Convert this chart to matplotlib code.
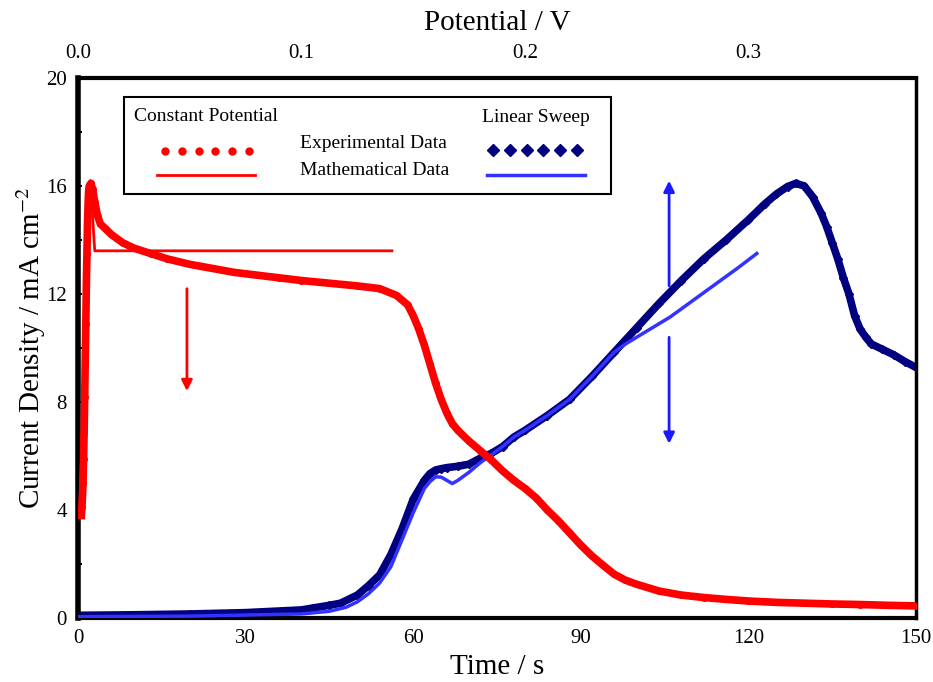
import matplotlib.pyplot as plt
from matplotlib.ticker import MultipleLocator

plt.rcParams['font.family'] = ['Liberation Serif', 'DejaVu Serif']
plt.rcParams['mathtext.fontset'] = 'stix'

# Constant potential - experimental
t_cp = [0.6, 0.7, 0.8, 0.9, 1.0, 1.1, 1.2, 1.3, 1.4, 1.5, 1.6, 1.7, 1.8, 1.9, 2.0,
        2.3, 2.6, 3.0, 3.5, 4.0, 5.0, 6.0, 8, 10, 13, 16, 20, 24, 28, 32, 36, 40,
        45, 50, 54, 57, 59, 60, 61, 62, 63, 64, 65, 66, 67, 68, 70, 72, 74, 76, 78,
        80, 82, 84, 86, 88, 90, 92, 94, 96, 98, 100, 104, 108, 112, 116, 120, 125,
        130, 135, 140, 145, 150]
j_cp = [3.8, 4.1, 4.5, 5.0, 5.9, 6.9, 8.2, 9.6, 10.9, 12.4, 13.5, 14.6, 15.3, 15.8, 16.0,
        16.1, 15.9, 15.4, 14.9, 14.6, 14.4, 14.2, 13.9, 13.7, 13.5, 13.3, 13.1, 12.95, 12.8,
        12.7, 12.6, 12.5, 12.4, 12.3, 12.2, 11.95, 11.6, 11.2, 10.7, 10.1, 9.4, 8.7, 8.1,
        7.6, 7.2, 6.95, 6.55, 6.2, 5.85, 5.45, 5.1, 4.8, 4.45, 4.0, 3.6, 3.15, 2.7, 2.3,
        1.95, 1.62, 1.4, 1.25, 1.0, 0.85, 0.76, 0.69, 0.63, 0.58, 0.55, 0.52, 0.5, 0.47, 0.45]

# Constant potential - mathematical
t_cpm = [0.3, 2.2, 3.0, 56.2]
j_cpm = [3.8, 16.2, 13.6, 13.6]

# Linear sweep - experimental
t_ls = [0, 10, 20, 30, 40, 42, 45, 47, 50, 52, 54, 56, 58, 60, 62, 63, 64, 65, 66, 68,
        70, 72, 74, 76, 78, 80, 84, 88, 92, 96, 100, 104, 108, 112, 116, 120, 123, 125,
        127, 128.5, 130, 131.5, 133, 134, 135, 136, 137, 138, 139, 140, 141, 142, 144,
        146, 148, 150]
j_ls = [0.1, 0.12, 0.15, 0.2, 0.3, 0.37, 0.47, 0.55, 0.85, 1.2, 1.6, 2.35, 3.3, 4.4, 5.1,
        5.35, 5.48, 5.53, 5.57, 5.62, 5.7, 5.92, 6.1, 6.35, 6.7, 6.95, 7.5, 8.1, 8.95, 9.85,
        10.75, 11.65, 12.5, 13.3, 14.0, 14.75, 15.35, 15.7, 15.98, 16.1, 16.0, 15.6, 15.0,
        14.5, 13.9, 13.3, 12.6, 12.0, 11.2, 10.7, 10.4, 10.15, 9.95, 9.75, 9.5, 9.28]

# Linear sweep - mathematical
t_lsm = [0, 20, 40, 45, 48, 50, 52, 54, 56, 58, 60, 62, 63, 64, 65, 66, 67, 68, 70, 72,
         74, 76, 78, 80, 84, 88, 92, 96, 98, 102, 106, 110, 114, 118, 121.5]
j_lsm = [0.05, 0.07, 0.15, 0.25, 0.4, 0.6, 0.9, 1.3, 1.9, 2.9, 3.9, 4.8, 5.05, 5.23, 5.22,
         5.1, 4.98, 5.1, 5.4, 5.75, 6.05, 6.35, 6.7, 6.95, 7.5, 8.1, 8.95, 9.85, 10.15,
         10.65, 11.15, 11.75, 12.35, 12.95, 13.5]

red = '#ff0000'
navy = '#000080'
blue = '#3333ff'

fig = plt.figure(figsize=(9.33, 6.82), dpi=100)
ax = fig.add_axes([0.0836, 0.0938, 0.8982, 0.7918])

# curves
ax.plot(t_ls, j_ls, color=navy, lw=5.5, marker='D', ms=4.5, zorder=2)
ax.plot(t_lsm, j_lsm, color=blue, lw=2.5, zorder=3)
ax.plot(t_cp, j_cp, color=red, lw=5.5, marker='o', ms=4, zorder=4)
ax.plot(t_cpm, j_cpm, color=red, lw=2, zorder=5)

# arrows
arr = dict(arrowstyle='-|>', lw=2, mutation_scale=16)
ax.annotate('', xy=(19.5, 8.3), xytext=(19.5, 12.3),
            arrowprops=dict(arr, color=red))
ax.annotate('', xy=(105.8, 16.3), xytext=(105.8, 12.2),
            arrowprops=dict(arr, color='#1a1aff'))
ax.annotate('', xy=(105.8, 6.35), xytext=(105.8, 10.5),
            arrowprops=dict(arr, color='#1a1aff'))

# axes
ax.set_xlim(0, 150)
ax.set_ylim(0, 20)
ax.set_xticks([0, 30, 60, 90, 120, 150])
ax.yaxis.set_major_locator(MultipleLocator(4))
ax.yaxis.set_minor_locator(MultipleLocator(2))
ax.tick_params(axis='x', length=0, labelsize=15, pad=8)
ax.tick_params(axis='y', which='both', direction='in', length=3, width=1.5,
               labelsize=15, pad=8)
ax.set_xlabel('Time / s', fontsize=21, labelpad=4)
ax.set_ylabel('Current Density / mA cm$^{-2}$', fontsize=21, labelpad=-1)

for side, w in [('left', 4), ('bottom', 3), ('top', 3), ('right', 2.5)]:
    ax.spines[side].set_linewidth(w)

top = ax.secondary_xaxis('top', functions=(lambda t: t / 400.0, lambda v: v * 400.0))
top.set_xticks([0.0, 0.1, 0.2, 0.3])
top.set_xticklabels(['0.0', '0.1', '0.2', '0.3'])
top.tick_params(length=0, labelsize=15, pad=11)
top.set_xlabel('Potential / V', fontsize=21, labelpad=10)

# legend box drawn by hand
tr = ax.transAxes
ax.add_patch(plt.Rectangle((0.0549, 0.7852), 0.581, 0.1796, transform=tr,
                           fill=False, ec='black', lw=1.5, zorder=6))
ax.text(0.1527, 0.9296, 'Constant Potential', transform=tr, fontsize=14,
        ha='center', va='center')
ax.text(0.5465, 0.9278, 'Linear Sweep', transform=tr, fontsize=14,
        ha='center', va='center')
ax.text(0.2649, 0.8796, 'Experimental Data', transform=tr, fontsize=14,
        ha='left', va='center')
ax.text(0.2649, 0.8296, 'Mathematical Data', transform=tr, fontsize=14,
        ha='left', va='center')
leg_x_red = [0.1038, 0.1239, 0.1440, 0.1640, 0.1841, 0.2041]
leg_x_navy = [0.4952, 0.5153, 0.5353, 0.5554, 0.5754, 0.5955]
ax.plot(leg_x_red, [0.8648] * 6, 'o', color=red, ms=5, transform=tr)
ax.plot([0.0943, 0.2112], [0.8204, 0.8204], color=red, lw=2, transform=tr)
ax.plot(leg_x_navy, [0.8667] * 6, 'D', color=navy, ms=6, transform=tr)
ax.plot([0.488, 0.605], [0.8204, 0.8204], color=blue, lw=2.5, transform=tr)

fig.savefig('out.png', dpi=100)
